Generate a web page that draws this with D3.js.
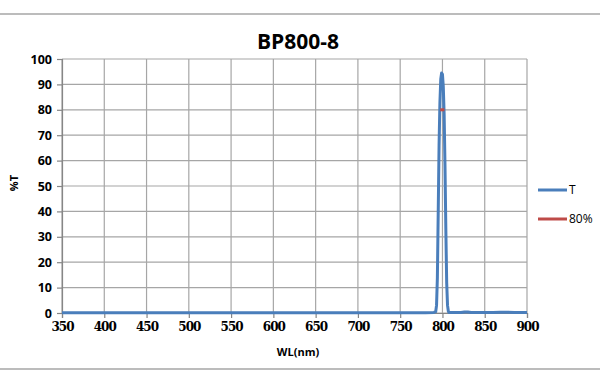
<!DOCTYPE html>
<html>
<head>
<meta charset="utf-8">
<script src="https://cdn.jsdelivr.net/npm/d3@7"></script>
<style>
  body { margin: 0; background: #fff; }
  svg { display: block; }
</style>
</head>
<body>
<div id="chart"></div>
<script>
// wavelength (nm) and transmittance (%)
const wl = [350, 400, 450, 500, 550, 600, 650, 700, 750, 780, 790, 792, 793, 794, 795, 796, 797, 798, 799, 800, 801, 802, 803, 804, 805, 806, 807, 808, 815, 822, 826, 830, 834, 840, 860, 868, 875, 885, 900];
const trans = [0.1, 0.1, 0.1, 0.1, 0.1, 0.1, 0.1, 0.1, 0.1, 0.1, 0.2, 0.5, 3, 14, 40, 66, 83, 92, 94.5, 94, 89, 78, 58, 33, 12, 3, 0.6, 0.2, 0.2, 0.2, 0.4, 0.4, 0.2, 0.2, 0.2, 0.3, 0.3, 0.2, 0.2];
// 80% marker
const markWl = [797.3, 802.3];
const markT = [80, 80];

const xTicks = d3.range(350, 901, 50);
const yTicks = d3.range(0, 101, 10);

const width = 600;
const height = 383;
const plot = { left: 62, right: 527, top: 59, bottom: 313 };

const svg = d3.select('#chart')
  .append('svg')
  .attr('width', width)
  .attr('height', height);

// frame lines
[14, 369].forEach((y) => {
  svg.append('line')
    .attr('x1', 0).attr('x2', width)
    .attr('y1', y).attr('y2', y)
    .attr('stroke', '#a6a6a6')
    .attr('stroke-width', 1.5);
});

const x = d3.scaleLinear().domain([350, 900]).range([plot.left, plot.right]);
const y = d3.scaleLinear().domain([0, 100]).range([plot.bottom, plot.top]);

const grid = svg.append('g');
grid.selectAll('.vg').data(xTicks).enter().append('line')
  .attr('x1', (d) => x(d)).attr('x2', (d) => x(d))
  .attr('y1', plot.top).attr('y2', plot.bottom)
  .attr('stroke', '#a6a6a6').attr('stroke-width', 1.2);
grid.selectAll('.hg').data(yTicks).enter().append('line')
  .attr('x1', plot.left).attr('x2', plot.right)
  .attr('y1', (d) => y(d)).attr('y2', (d) => y(d))
  .attr('stroke', '#a6a6a6').attr('stroke-width', 1.2);

// axes
const xAxis = svg.append('g')
  .attr('transform', `translate(0,${plot.bottom})`)
  .call(d3.axisBottom(x).tickValues(xTicks).tickSize(5).tickPadding(4).tickFormat(d3.format('d')));
const yAxis = svg.append('g')
  .attr('transform', `translate(${plot.left},0)`)
  .call(d3.axisLeft(y).tickValues(yTicks).tickSize(5).tickPadding(5).tickFormat(d3.format('d')));

[xAxis, yAxis].forEach((a) => {
  a.select('.domain').attr('stroke', '#868686').attr('stroke-width', 1.2);
  a.selectAll('.tick line').attr('stroke', '#868686').attr('stroke-width', 1.2);
});
xAxis.selectAll('.tick text')
  .attr('fill', '#000')
  .attr('font-family', '"DejaVu Serif", serif')
  .attr('font-weight', 'bold')
  .attr('font-size', 12)
  .attr('letter-spacing', -1)
  .attr('dy', '0.75em');
yAxis.selectAll('.tick text')
  .attr('fill', '#000')
  .style('font', 'bold 12.5px "Open Sans", "Liberation Sans", sans-serif');

// series
const pts = wl.map((d, i) => [d, trans[i]]);
const line = d3.line().x((d) => x(d[0])).y((d) => y(d[1]));

svg.append('path')
  .datum(pts)
  .attr('fill', 'none')
  .attr('stroke', '#4a7ebb')
  .attr('stroke-width', 3)
  .attr('stroke-linejoin', 'round')
  .attr('d', line);

svg.append('path')
  .datum(markWl.map((d, i) => [d, markT[i]]))
  .attr('fill', 'none')
  .attr('stroke', '#be4b48')
  .attr('stroke-width', 3)
  .attr('d', line);

// title
svg.append('text')
  .attr('x', 298).attr('y', 49)
  .attr('text-anchor', 'middle')
  .style('font', 'bold 21px "Open Sans", "Liberation Sans", sans-serif')
  .text('BP800-8');

svg.append('text')
  .attr('x', 298).attr('y', 356)
  .attr('text-anchor', 'middle')
  .style('font', 'bold 11px "Open Sans", "Liberation Sans", sans-serif')
  .text('WL(nm)');

svg.append('text')
  .attr('transform', `translate(18,${(plot.top + plot.bottom) / 2 - 3}) rotate(-90)`)
  .attr('text-anchor', 'middle')
  .style('font', 'bold 11px "Open Sans", "Liberation Sans", sans-serif')
  .text('%T');

// legend
const legend = [{ name: 'T', color: '#4a7ebb', y: 190 }, { name: '80%', color: '#be4b48', y: 219 }];
legend.forEach((l) => {
  svg.append('line')
    .attr('x1', 538).attr('x2', 567)
    .attr('y1', l.y).attr('y2', l.y)
    .attr('stroke', l.color).attr('stroke-width', 3);
  svg.append('text')
    .attr('x', 569).attr('y', l.y + 4)
    .style('font', '12px "Open Sans", "Liberation Sans", sans-serif')
    .text(l.name);
});
</script>
</body>
</html>
